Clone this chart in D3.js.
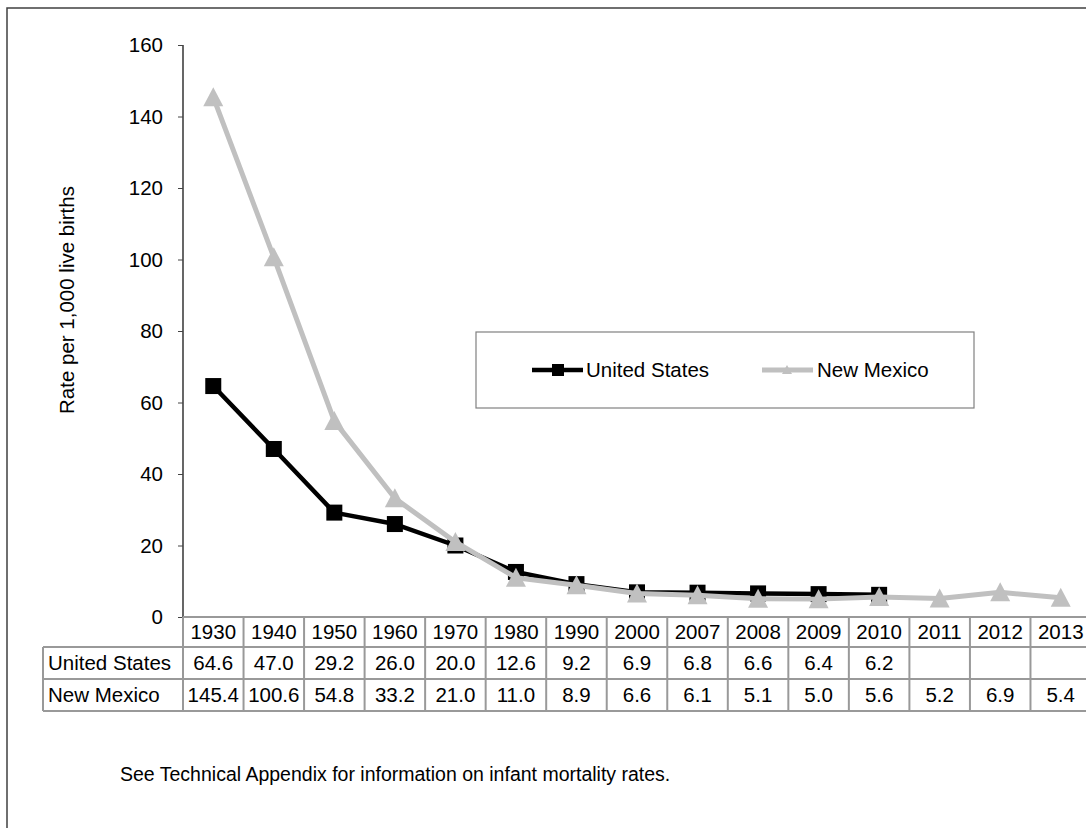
<!DOCTYPE html>
<html><head><meta charset="utf-8">
<script src="https://cdn.jsdelivr.net/npm/d3@7"></script>
<style>body{margin:0;background:#fff;}svg{display:block;font-family:"Liberation Sans",Arial,sans-serif;}</style>
</head><body>
<script>
const years = ["1930","1940","1950","1960","1970","1980","1990","2000","2007","2008","2009","2010","2011","2012","2013"];
const usValues = [64.6,47.0,29.2,26.0,20.0,12.6,9.2,6.9,6.8,6.6,6.4,6.2,null,null,null];
const nmValues = [145.4,100.6,54.8,33.2,21.0,11.0,8.9,6.6,6.1,5.1,5.0,5.6,5.2,6.9,5.4];
const yTicks = [0,20,40,60,80,100,120,140,160];
const seriesNames = ["United States","New Mexico"];
const yLabel = "Rate per 1,000 live births";
const footnote = "See Technical Appendix for information on infant mortality rates.";

const W=1086,H=828;
const svg=d3.select("body").append("svg").attr("width",W).attr("height",H);
const FS=20.5;
// outer border
svg.append("path").attr("d",`M7,${H} L7,8 L${W},8`).attr("fill","none").attr("stroke","#404040").attr("stroke-width",1.5);

const x=d3.scaleBand().domain(years).range([183,1091]).padding(0);
const y=d3.scaleLinear().domain([0,160]).range([617,45]);

// y axis
const ya=svg.append("g").attr("transform","translate(183,0)")
 .call(d3.axisLeft(y).tickValues(yTicks).tickSize(5).tickPadding(15).tickFormat(d3.format("d")));
ya.select(".domain").attr("stroke","#000").attr("stroke-width",1.2).attr("d","M0,45V617");
ya.selectAll(".tick line").attr("stroke","#444");
ya.selectAll("text").attr("font-size",FS).attr("fill","#000").attr("font-family","Liberation Sans, Arial, sans-serif");

svg.append("text").attr("transform","translate(67,300) rotate(-90)").attr("text-anchor","middle").attr("dy","0.35em")
 .attr("font-size",FS).text(yLabel);

// table
const rowTops=[617,647,679,711];
const tg=svg.append("g");
const gc="#999";
tg.append("line").attr("x1",183).attr("x2",W).attr("y1",rowTops[0]).attr("y2",rowTops[0]).attr("stroke",gc).attr("stroke-width",2);
[1,2,3].forEach(i=>tg.append("line").attr("x1",43).attr("x2",W).attr("y1",rowTops[i]).attr("y2",rowTops[i]).attr("stroke",gc).attr("stroke-width",2));
tg.append("line").attr("x1",43).attr("x2",43).attr("y1",rowTops[1]).attr("y2",rowTops[3]).attr("stroke",gc).attr("stroke-width",2);
years.forEach(yr=>{
  tg.append("line").attr("x1",x(yr)).attr("x2",x(yr)).attr("y1",rowTops[0]).attr("y2",rowTops[3]).attr("stroke",gc).attr("stroke-width",2);
});
const cy=i=>(rowTops[i]+rowTops[i+1])/2;
years.forEach((yr,i)=>{
  const mx=x(yr)+x.bandwidth()/2;
  tg.append("text").attr("x",mx).attr("y",cy(0)).attr("dy","0.35em").attr("text-anchor","middle").attr("font-size",FS).text(yr);
  if(usValues[i]!=null) tg.append("text").attr("x",mx).attr("y",cy(1)).attr("dy","0.35em").attr("text-anchor","middle").attr("font-size",FS).text(usValues[i].toFixed(1));
  if(nmValues[i]!=null) tg.append("text").attr("x",mx).attr("y",cy(2)).attr("dy","0.35em").attr("text-anchor","middle").attr("font-size",FS).text(nmValues[i].toFixed(1));
});
tg.append("text").attr("x",48).attr("y",cy(1)).attr("dy","0.35em").attr("font-size",FS).text(seriesNames[0]);
tg.append("text").attr("x",48).attr("y",cy(2)).attr("dy","0.35em").attr("font-size",FS).text(seriesNames[1]);

// series
const cx=yr=>x(yr)+x.bandwidth()/2;
const usData=years.map((yr,i)=>({yr,v:usValues[i]})).filter(d=>d.v!=null);
const nmData=years.map((yr,i)=>({yr,v:nmValues[i]})).filter(d=>d.v!=null);
const line=d3.line().x(d=>cx(d.yr)).y(d=>y(d.v));
svg.append("path").datum(usData).attr("d",line).attr("fill","none").attr("stroke","#000").attr("stroke-width",4.5).attr("stroke-linejoin","round");
svg.selectAll(".sq").data(usData).enter().append("rect").attr("x",d=>cx(d.yr)-8).attr("y",d=>y(d.v)-8).attr("width",16).attr("height",16).attr("fill","#000");
const grey="#c0c0c0";
svg.append("path").datum(nmData).attr("d",line).attr("fill","none").attr("stroke",grey).attr("stroke-width",5).attr("stroke-linejoin","round");
const triPath="M0,-10L10,9L-10,9Z";
svg.selectAll(".tri").data(nmData).enter().append("path").attr("d",triPath).attr("transform",d=>`translate(${cx(d.yr)},${y(d.v)})`).attr("fill",grey);

// legend
const lg=svg.append("g");
lg.append("rect").attr("x",476).attr("y",332).attr("width",498).attr("height",76).attr("fill","#fff").attr("stroke","#808080").attr("stroke-width",1.2);
const ly=370;
lg.append("line").attr("x1",532).attr("x2",583).attr("y1",ly).attr("y2",ly).attr("stroke","#000").attr("stroke-width",4.5);
lg.append("rect").attr("x",552).attr("y",ly-6).attr("width",12).attr("height",12).attr("fill","#000");
lg.append("text").attr("x",586).attr("y",ly).attr("dy","0.35em").attr("font-size",FS).text(seriesNames[0]);
lg.append("line").attr("x1",762).attr("x2",813).attr("y1",ly).attr("y2",ly).attr("stroke",grey).attr("stroke-width",5);
lg.append("path").attr("d","M0,-5L5,4L-5,4Z").attr("transform",`translate(787,${ly})`).attr("fill",grey);
lg.append("text").attr("x",817).attr("y",ly).attr("dy","0.35em").attr("font-size",FS).text(seriesNames[1]);

svg.append("text").attr("x",120).attr("y",781).attr("font-size",19.5).text(footnote);
</script>
</body></html>
